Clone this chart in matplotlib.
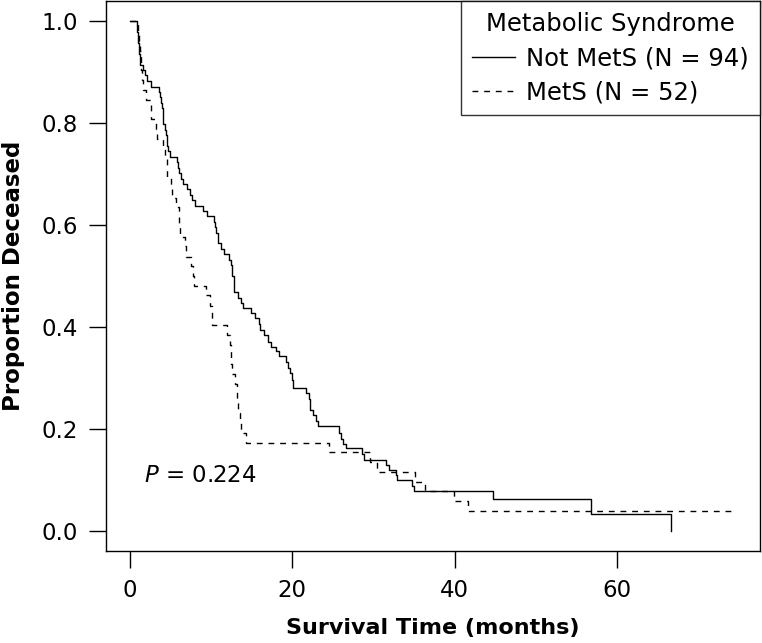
import matplotlib
matplotlib.use("Agg")
import matplotlib.pyplot as plt
import numpy as np

plt.rcParams['font.family'] = ['DejaVu Sans']

# Not MetS (N = 94): event times (months) and survival after each event
notmets_time = [0.90, 1.05, 1.17, 1.27, 1.60, 1.85, 2.06, 2.56,
                3.58, 3.70, 3.79, 3.95, 4.04, 4.07, 4.11, 4.28, 4.41, 4.53, 4.63, 4.73, 4.88,
                5.84, 5.93, 6.05, 6.33, 6.58, 7.07, 7.37, 7.69, 8.02, 9.01, 9.54,
                10.37, 10.49, 10.65, 10.80, 10.90, 11.20, 11.60,
                12.22, 12.43, 12.53, 12.63, 12.78, 12.84, 12.88,
                13.37, 13.67, 13.99,
                14.94, 15.43, 15.93, 16.05, 16.54, 16.95, 17.37, 17.99, 18.40,
                19.22, 19.42, 19.75, 19.94, 20.04,
                21.69, 22.10, 22.16, 22.22, 22.59, 22.93, 23.12,
                25.72, 26.01, 26.21, 26.63,
                28.60, 28.80,
                31.57, 31.85, 32.78, 32.88,
                34.78, 34.98,
                44.73, 56.75, 66.67]
notmets_surv = [0.979, 0.958, 0.936, 0.915, 0.904, 0.894, 0.883, 0.872,
                0.862, 0.851, 0.840, 0.830, 0.819, 0.809, 0.798, 0.787, 0.777, 0.766, 0.755, 0.745, 0.734,
                0.723, 0.713, 0.702, 0.691, 0.681, 0.670, 0.660, 0.649, 0.638, 0.628, 0.617,
                0.606, 0.596, 0.585, 0.574, 0.564, 0.553, 0.543,
                0.532, 0.521, 0.510, 0.500, 0.489, 0.479, 0.468,
                0.457, 0.447, 0.437,
                0.427, 0.417, 0.406, 0.394, 0.384, 0.371, 0.361, 0.352, 0.342,
                0.331, 0.320, 0.309, 0.295, 0.280,
                0.270, 0.259, 0.248, 0.237, 0.227, 0.216, 0.205,
                0.192, 0.180, 0.170, 0.162,
                0.150, 0.139,
                0.129, 0.119, 0.110, 0.100,
                0.088, 0.077,
                0.063, 0.033, 0.0]

# MetS (N = 52)
mets_time = [0.99, 1.11, 1.21, 1.32, 1.42, 1.54, 1.64, 1.98, 2.56, 2.65,
             3.17, 3.33, 4.11, 4.32, 4.51, 4.63, 5.02, 5.22, 5.72, 6.05,
             6.09, 6.14, 6.79, 6.85, 7.49, 7.78, 7.84, 9.42, 9.88, 10.09,
             10.16, 11.94, 12.35, 12.43, 12.49, 12.56, 12.96, 13.15, 13.23, 13.31,
             13.58, 13.67, 14.28, 24.48, 29.57, 30.49, 35.06, 36.30, 39.88, 41.60]
mets_surv = [0.981, 0.962, 0.942, 0.923, 0.904, 0.885, 0.865, 0.846, 0.827, 0.808,
             0.788, 0.769, 0.750, 0.731, 0.712, 0.692, 0.673, 0.654, 0.635, 0.615,
             0.596, 0.577, 0.558, 0.538, 0.519, 0.500, 0.481, 0.462, 0.442, 0.423,
             0.404, 0.385, 0.365, 0.346, 0.327, 0.308, 0.288, 0.269, 0.250, 0.231,
             0.212, 0.192, 0.173, 0.154, 0.135, 0.115, 0.096, 0.077, 0.058, 0.038]
mets_last_followup = 74.57

legend_title = "Metabolic Syndrome"
series_labels = ["Not MetS (N = 94)", "MetS (N = 52)"]
x_ticks = [0, 20, 40, 60]
y_ticks = [0.0, 0.2, 0.4, 0.6, 0.8, 1.0]
p_value = "0.224"

W, H = 762, 643
FS = 16.5
LFS = 17.5
fig = plt.figure(figsize=(W / 100, H / 100), dpi=100)
ax = fig.add_axes([105.7 / W, (H - 551) / H, (760 - 105.7) / W, 550 / H])

t1 = np.r_[0, notmets_time]
s1 = np.r_[1.0, notmets_surv]
ax.step(t1, s1, where='post', color='black', lw=1.0, label=series_labels[0])

t2 = np.r_[0, mets_time, mets_last_followup]
s2 = np.r_[1.0, mets_surv, mets_surv[-1]]
ax.step(t2, s2, where='post', color='black', lw=1.0, dashes=(4.2, 4.2),
        label=series_labels[1])

ax.set_xlim(-2.98, 77.6)
ax.set_ylim(-0.04, 1.04)
ax.set_xticks(x_ticks)
ax.set_xticklabels([str(v) for v in x_ticks])
ax.set_yticks(y_ticks)
ax.set_yticklabels([f"{v:.1f}" for v in y_ticks])
ax.tick_params(direction='out', length=12, width=1, labelsize=FS, color='black')
ax.tick_params(axis='y', pad=8)
ax.tick_params(axis='x', pad=8)
for sp in ax.spines.values():
    sp.set_linewidth(1.0)
    sp.set_color('black')

ax.set_xlabel("Survival Time (months)", fontsize=16, fontweight='bold')
ax.xaxis.label.set_va('center')
ax.xaxis.set_label_coords(0.5, (551 - 628) / 550)
ax.set_ylabel("Proportion Deceased", fontsize=16.5, fontweight='bold')
ax.yaxis.label.set_va('center')
ax.yaxis.set_label_coords((14 - 105.7) / 654.3, 0.5)

ax.text(1.73, 0.108, r"$P$ = " + p_value, fontsize=FS, va='center', ha='left')

leg = ax.legend(title=legend_title, loc='upper right', borderaxespad=0,
                fontsize=LFS, title_fontsize=LFS, frameon=True, fancybox=False,
                handlelength=1.8, handletextpad=0.45, borderpad=0.45,
                labelspacing=0.42)
leg.get_frame().set_edgecolor('black')
leg.get_frame().set_linewidth(1.0)

fig.savefig("out.png", dpi=100)
